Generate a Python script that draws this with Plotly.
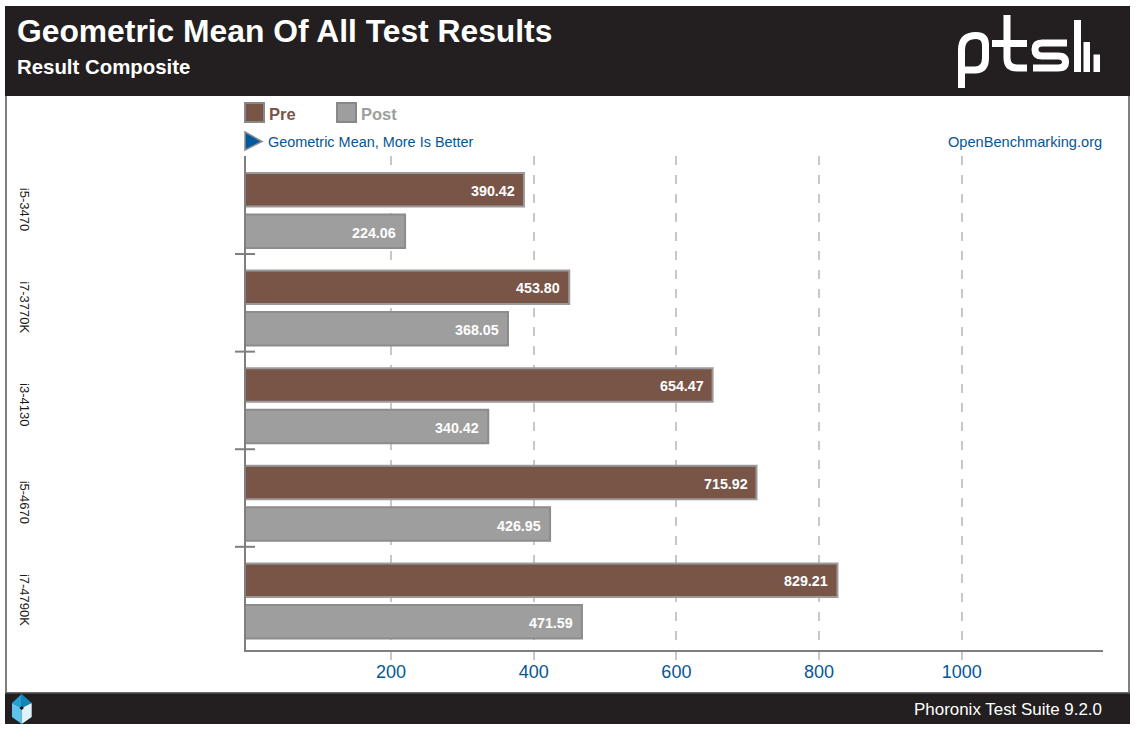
import plotly.graph_objects as go

categories = ["i5-3470", "i7-3770K", "i3-4130", "i5-4670", "i7-4790K"]
pre_values = [390.42, 453.80, 654.47, 715.92, 829.21]
post_values = [224.06, 368.05, 340.42, 426.95, 471.59]
value_ticks = [200, 400, 600, 800, 1000]

W, H = 1137, 732
FONT = "Liberation Sans, Arial, sans-serif"
BROWN, GREY, BLUE, DARK = "#795548", "#9e9e9e", "#065695", "#231f20"
AXIS = "#7f7f7f"
BAR_SCALE = 0.7145


def X(p):
    return p / W


def Y(p):
    return 1 - p / H


def path(points):
    out = []
    for tok in points.split():
        if "," in tok:
            a, b = tok.split(",")
            out.append(f"{X(float(a)):.5f},{Y(float(b)):.5f}")
        else:
            out.append(tok)
    return " ".join(out)


shapes = []
annotations = []


def rect(x0, y0, x1, y1, fill, line=None, lw=0, layer="below"):
    shapes.append(dict(type="rect", xref="paper", yref="paper", x0=X(x0), x1=X(x1), y0=Y(y0), y1=Y(y1),
                       fillcolor=fill, line=dict(color=line or fill, width=lw), layer=layer))


def poly(d, fill=None, line=None, lw=0, layer="above"):
    s = dict(type="path", xref="paper", yref="paper", path=path(d), layer=layer,
             line=dict(color=line or "rgba(0,0,0,0)", width=lw))
    if fill:
        s["fillcolor"] = fill
    shapes.append(s)


def label(x, y, text, size, color, anchor="left", bold=False):
    annotations.append(dict(xref="paper", yref="paper", x=X(x), y=Y(y), text=f"<b>{text}</b>" if bold else text,
                            showarrow=False, xanchor=anchor, yanchor="middle", borderpad=0,
                            font=dict(family=FONT, size=size, color=color)))


# frame
rect(5, 96, 7, 692, AXIS)
rect(1128, 96, 1130, 692, AXIS)
rect(5, 6, 1130, 96, DARK)
rect(5, 692, 1130, 724, DARK)
rect(5, 692, 1130, 693.5, "#6a6a6a")

# header / footer text
label(16, 31, "Geometric Mean Of All Test Results", 31.8, "#ffffff", bold=True)
label(16, 67, "Result Composite", 20.4, "#ffffff", bold=True)
label(1102.5, 709, "Phoronix Test Suite 9.2.0", 16.95, "#ffffff", anchor="right")

# pts logo
logo_kw = dict(line="#ffffff", lw=7, layer="above")
poly("M 961.5,88 L 961.5,50 Q 961.5,35.5 976,35.5 Q 985.5,35.5 985.5,45 L 985.5,58 Q 985.5,70 975,70 L 962,70", **logo_kw)
poly("M 992,43.5 L 1027,43.5 M 1007,15 L 1007,58 Q 1007,68 1017,68 L 1027,68", **logo_kw)
poly("M 1067,43 L 1042,43 Q 1035,43 1035,49.5 Q 1035,56 1042,56 L 1058,56 Q 1065.5,56 1065.5,62 Q 1065.5,68 1058,68 L 1033,68", **logo_kw)
rect(1074, 20, 1081, 72, "#ffffff")
rect(1083.5, 42, 1090, 72, "#ffffff")
rect(1093.5, 54.5, 1100, 72, "#ffffff")

# footer cube
poly("M 21.7,694 L 31.7,703 L 21.7,708 Z", fill="#1187b8")
poly("M 21.7,694 L 12,703 L 21.7,708 Z", fill="#22a0d6")
poly("M 12,703 L 21.7,708 L 21.7,724 L 12,717 Z", fill="#5cc3ee")
poly("M 31.7,703 L 21.7,708 L 21.7,724 L 31.7,717 Z", fill="#dff3fc")
poly("M 21.7,706 L 24,708 L 21.7,710 L 19.4,708 Z", fill="#111111")

# legend
rect(245, 103, 264, 122, BROWN, "#888888", 2)
label(268, 114, "Pre", 16.5, BROWN, bold=True)
rect(337, 103, 356, 122, GREY, "#888888", 2)
label(360, 114, "Post", 16.5, GREY, bold=True)

# direction line
poly("M 245,132 L 262,141.5 L 245,150 Z", fill="#005a9c", line="#8a8a8a", lw=1.5)
label(267, 142, "Geometric Mean, More Is Better", 14.45, BLUE)
label(1103, 142, "OpenBenchmarking.org", 14.6, BLUE, anchor="right")

# group separators, on the category axis
for i in range(len(categories) - 1):
    shapes.append(dict(type="line", yref="y", xref="paper", y0=i + 0.446, y1=i + 0.446,
                       x0=X(235), x1=X(255), line=dict(color=AXIS, width=2), layer="above"))

# value labels
for i, (a, b) in enumerate(zip(pre_values, post_values)):
    for v, shift in ((a, 19.8), (b, -22.3)):
        annotations.append(dict(x=v, y=categories[i], xref="x", yref="y", text=f"<b>{v:.2f}</b>", showarrow=False,
                                xanchor="right", yanchor="middle", xshift=-8, yshift=shift, borderpad=0,
                                font=dict(family=FONT, size=14.3, color="#ffffff")))

fig = go.Figure()
fig.add_trace(go.Bar(name="Pre", y=categories, x=pre_values, orientation="h",
                     marker=dict(color=BROWN, line=dict(color="#9a9a9a", width=2)), showlegend=False, hoverinfo="x+y"))
fig.add_trace(go.Bar(name="Post", y=categories, x=post_values, orientation="h",
                     marker=dict(color=GREY, line=dict(color="#8c8c8c", width=2)), showlegend=False, hoverinfo="x+y"))
# carrier for the visible value axis
fig.add_trace(go.Scatter(x=[value_ticks[0], value_ticks[-1]], y=[categories[0], categories[-1]], xaxis="x2", yaxis="y",
                         mode="markers", marker=dict(opacity=0), showlegend=False, hoverinfo="skip"))

fig.update_layout(
    width=W, height=H, margin=dict(l=0, r=0, t=0, b=0), autosize=False,
    paper_bgcolor="#ffffff", plot_bgcolor="rgba(0,0,0,0)",
    barmode="group", bargap=0.15, bargroupgap=0.193,
    showlegend=False, shapes=shapes, annotations=annotations,
    xaxis=dict(domain=[X(246), X(1103)], range=[1 / BAR_SCALE, 858 / BAR_SCALE], visible=False, fixedrange=True),
    xaxis2=dict(domain=[X(246), X(1103)], overlaying="x", anchor="y", side="bottom",
                range=[(246 - 248.4) / 0.7133, (1103 - 248.4) / 0.7133],
                tickmode="array", tickvals=value_ticks, ticktext=[str(v) for v in value_ticks],
                showgrid=True, gridcolor="#c8c8c8", gridwidth=2, griddash="9px,10px", zeroline=False,
                showline=True, linecolor=AXIS, linewidth=2,
                ticks="outside", ticklen=8, tickcolor="#c8c8c8", tickwidth=2, ticklabelstandoff=-4,
                tickfont=dict(family=FONT, size=18, color=BLUE), fixedrange=True),
    yaxis=dict(domain=[Y(650), Y(156)], type="category", categoryorder="array", categoryarray=categories,
               range=[(650 - 210.5) / 97.6, (156 - 210.5) / 97.6],
               showgrid=False, zeroline=False, showline=True, linecolor=AXIS, linewidth=2,
               ticks="", tickangle=90, ticklabelstandoff=208, ticklabelshift=-1,
               tickfont=dict(family=FONT, size=13, color="#1a1a1a"), fixedrange=True),
)

fig.write_html("out.html", config=dict(displayModeBar=False),
               post_script="document.body.style.margin='0';")
